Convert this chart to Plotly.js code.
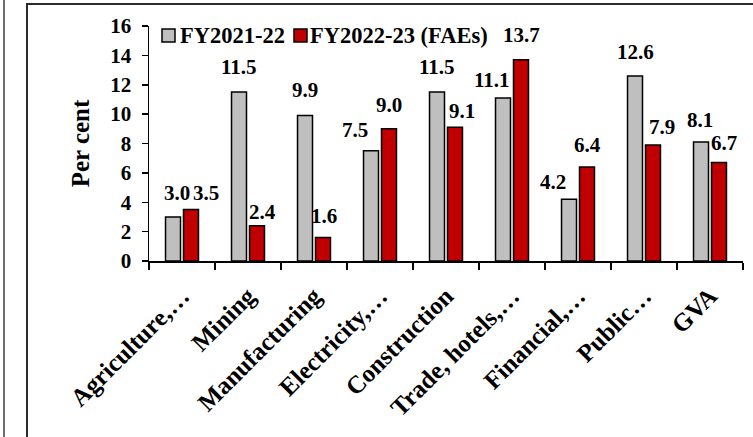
<!DOCTYPE html>
<html>
<head>
<meta charset="utf-8">
<script src="https://cdn.plot.ly/plotly-3.0.1.min.js"></script>
<style>
  html, body { margin: 0; padding: 0; background: #ffffff; }
  #wrap { position: relative; width: 753px; height: 437px; overflow: hidden; }
  #chart { position: absolute; left: 0; top: 0; width: 753px; height: 437px; }
  .rule-left { position: absolute; left: 3px; top: 0; width: 2px; height: 437px; background: #6e6e6e; pointer-events: none; }
  .frame { position: absolute; left: 26px; top: 3px; width: 800px; height: 500px;
           border-left: 2px solid #2b2b2b; border-top: 2px solid #2b2b2b; pointer-events: none; }
</style>
</head>
<body>
<div id="wrap">
  <div id="chart"></div>
  <div class="rule-left"></div>
  <div class="frame"></div>
</div>
<script>
// Sector growth, per cent
const sectors = ["Agriculture,…", "Mining", "Manufacturing", "Electricity,…", "Construction",
                 "Trade, hotels,…", "Financial,…", "Public…", "GVA"];
const fy2122 = [3.0, 11.5, 9.9, 7.5, 11.5, 11.1, 4.2, 12.6, 8.1];
const fy2223 = [3.5, 2.4, 1.6, 9.0, 9.1, 13.7, 6.4, 7.9, 6.7];
const seriesNames = ["FY2021-22", "FY2022-23 (FAEs)"];
const yTicks = [0, 2, 4, 6, 8, 10, 12, 14, 16];

// hand-placed value label nudges (pixels): horizontal, and height of label centre above bar top
const nudgeX2122 = [4, 0, 0, -16, 0, -11, -16, 0, -1];
const nudgeY2122 = [24, 25, 26, 21, 25, 18, 17, 24, 22];
const nudgeX2223 = [15, 5, 1, 0, 7, 0, 0, 9, 5];
const nudgeY2223 = [17, 14, 22, 24, 16, 25, 22, 18, 20];

const FONT = "Liberation Serif";
const GRAY = "#bfbfbf";
const RED = "#c00000";

// plot area in pixels
const L = 149, R = 743, T = 26, B = 261, W = 753, H = 437;
const px = x => (x - L) / (R - L);
const py = y => (B - y) / (B - T);

const barStyle = (color) => ({ color: color, line: { color: "#000000", width: 1.5 } });

const traces = [
  { type: "bar", name: seriesNames[0], x: sectors, y: fy2122, marker: barStyle(GRAY), hoverinfo: "x+y" },
  { type: "bar", name: seriesNames[1], x: sectors, y: fy2223, marker: barStyle(RED), hoverinfo: "x+y" }
];

const labelFont = { family: FONT, size: 21, color: "#000000", weight: "bold" };
const legendFont = { family: FONT, size: 22.5, color: "#000000", weight: "bold" };
const annotations = [];
const BAR_OFF = 9;
sectors.forEach((s, i) => {
  annotations.push({ x: s, y: fy2122[i], xref: "x", yref: "y", text: fy2122[i].toFixed(1),
    showarrow: false, xanchor: "center", yanchor: "middle",
    xshift: -BAR_OFF + nudgeX2122[i], yshift: nudgeY2122[i], font: labelFont });
  annotations.push({ x: s, y: fy2223[i], xref: "x", yref: "y", text: fy2223[i].toFixed(1),
    showarrow: false, xanchor: "center", yanchor: "middle",
    xshift: BAR_OFF + nudgeX2223[i], yshift: nudgeY2223[i], font: labelFont });
});

// legend
const legendItems = [
  { color: GRAY, box: [162, 175], textX: 178 },
  { color: RED, box: [294, 307], textX: 308 }
];
const shapes = [];
legendItems.forEach((it, i) => {
  shapes.push({ type: "rect", xref: "paper", yref: "paper",
    x0: px(it.box[0]), x1: px(it.box[1]), y0: py(42), y1: py(29),
    fillcolor: it.color, line: { color: "#000000", width: 1.5 } });
  annotations.push({ x: px(it.textX), y: py(35.5), xref: "paper", yref: "paper",
    text: seriesNames[i], showarrow: false, xanchor: "left", yanchor: "middle",
    font: legendFont });
});

const yTickFont = { family: FONT, size: 21, color: "#000000", weight: "bold" };
const xTickFont = { family: FONT, size: 25, color: "#000000", weight: "bold" };

const layout = {
  width: W, height: H,
  margin: { l: L, r: W - R, t: T, b: H - B, pad: 0 },
  paper_bgcolor: "rgba(0,0,0,0)",
  plot_bgcolor: "rgba(0,0,0,0)",
  showlegend: false,
  barmode: "group",
  bargap: 0.455,
  bargroupgap: 0.167,
  font: { family: FONT, color: "#000000" },
  xaxis: {
    type: "category",
    tickson: "boundaries",
    ticks: "outside", ticklen: 7, tickwidth: 1.5, tickcolor: "#000000",
    showline: true, linecolor: "#000000", linewidth: 1.5,
    showgrid: false, zeroline: false,
    tickangle: -45,
    tickfont: xTickFont,
    ticklabelstandoff: 9,
    automargin: false
  },
  yaxis: {
    range: [0, 16],
    tickvals: yTicks,
    ticktext: yTicks.map(String),
    ticks: "outside", ticklen: 6, tickwidth: 1.5, tickcolor: "#000000",
    showline: true, linecolor: "#000000", linewidth: 1.5,
    showgrid: false, zeroline: false,
    tickfont: yTickFont,
    ticklabelstandoff: 6,
    title: { text: "Per cent", font: { family: FONT, size: 25, color: "#000000", weight: "bold" } },
    automargin: false
  },
  annotations: annotations,
  shapes: shapes
};

Plotly.newPlot("chart", traces, layout, { displayModeBar: false, staticPlot: true });
</script>
</body>
</html>
